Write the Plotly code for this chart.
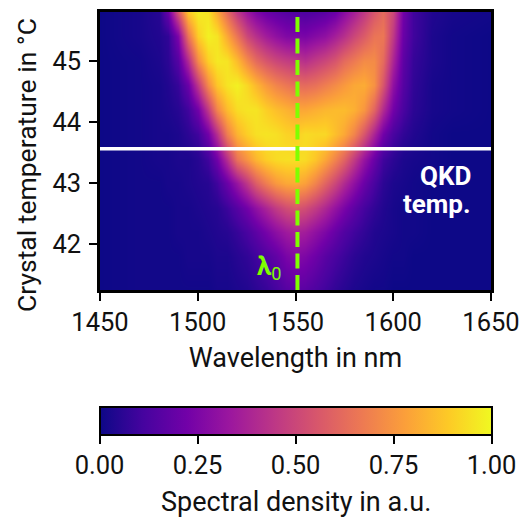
import plotly.graph_objects as go

wavelengths = [1450,1470,1480,1485,1490,1495,1500,1505,1510,1515,1520,1525,1530,1535,1540,1545,1550,1555,1560,1565,1570,1575,1580,1585,1590,1595,1600,1605,1610,1620,1630,1650]
temps = [41.25,41.8,42.2,42.6,43.0,43.4,43.8,44.2,44.6,45.0,45.4,45.8]
r_4125 = [0,.01,.01,.01,.01,.01,.01,.01,.02,.02,.03,.04,.06,.08,.11,.15,.17,.16,.13,.10,.07,.05,.03,.02,.01,.01,0,0,0,0,0,0]
r_418 = [0,.01,.01,.01,.01,.02,.02,.02,.03,.03,.05,.07,.10,.14,.18,.24,.27,.25,.21,.16,.12,.09,.06,.04,.03,.02,.01,.01,0,0,0,0]
r_422 = [0,.01,.01,.01,.02,.02,.02,.03,.04,.05,.08,.12,.17,.23,.29,.34,.37,.35,.30,.25,.19,.14,.10,.07,.04,.03,.02,.01,.01,0,0,0]
r_426 = [0,.01,.01,.01,.02,.02,.03,.04,.05,.09,.15,.22,.30,.38,.46,.52,.55,.52,.46,.39,.31,.24,.17,.11,.07,.04,.02,.01,.01,0,0,0]
r_430 = [0,.01,.01,.02,.02,.03,.04,.05,.10,.20,.32,.45,.58,.68,.76,.80,.81,.78,.70,.60,.50,.40,.30,.20,.12,.06,.03,.02,.01,0,0,0]
r_434 = [0,.01,.02,.02,.03,.03,.05,.10,.22,.42,.65,.75,.84,.90,.93,.94,.94,.93,.88,.80,.70,.60,.46,.32,.20,.10,.06,.03,.02,.01,0,0]
r_438 = [0,.01,.02,.02,.03,.06,.10,.22,.42,.68,.83,.90,.94,.95,.94,.91,.90,.93,.92,.92,.86,.80,.70,.55,.38,.22,.12,.07,.04,.01,0,0]
r_442 = [0,.01,.02,.03,.05,.10,.22,.45,.70,.85,.93,.95,.95,.90,.86,.83,.80,.80,.82,.84,.85,.85,.82,.75,.60,.40,.22,.12,.06,.02,.01,0]
r_446 = [0,.01,.02,.04,.08,.20,.45,.72,.88,.95,.98,.92,.84,.76,.70,.66,.63,.62,.64,.68,.72,.76,.80,.81,.74,.55,.30,.15,.07,.02,.01,0]
r_450 = [0,.01,.03,.06,.15,.40,.72,.90,.96,.95,.85,.72,.62,.55,.50,.47,.45,.42,.46,.50,.55,.62,.67,.72,.72,.62,.38,.17,.08,.03,.01,0]
r_454 = [0,.02,.04,.07,.25,.65,.90,.98,.95,.80,.65,.50,.42,.35,.30,.26,.25,.24,.27,.30,.36,.42,.50,.57,.65,.66,.45,.20,.10,.03,.01,0]
r_458 = [0,.02,.05,.20,.55,.88,.97,.95,.80,.62,.45,.33,.25,.20,.17,.15,.14,.13,.14,.16,.20,.28,.36,.45,.55,.62,.50,.22,.10,.04,.02,.01]
density = [r_4125,r_418,r_422,r_426,r_430,r_434,r_438,r_442,r_446,r_450,r_454,r_458]
lambda0 = 1551
qkd_temp = 43.56
x_ticks = [1450,1500,1550,1600,1650]
y_ticks = [42,43,44,45]
cb_ticks = [0,.25,.5,.75,1]
cb_labels = ["0.00","0.25","0.50","0.75","1.00"]

FONT = "Roboto"
TICK = 25.5
TITLE = 27
INK = "#111"
fig = go.Figure()
fig.add_trace(go.Heatmap(
    x=wavelengths, y=temps, z=density, zmin=0, zmax=1, zsmooth="best",
    colorscale="Plasma", hoverinfo="skip",
    colorbar=dict(orientation="h", thicknessmode="pixels", thickness=28, lenmode="pixels", len=392,
                  xref="paper", yref="container", x=0.5, xanchor="center", y=1-399/509, yanchor="top", xpad=0, ypad=0,
                  outlinewidth=2, outlinecolor="black", ticks="outside", ticklen=8, tickwidth=2, tickcolor="black",
                  tickvals=cb_ticks, ticktext=cb_labels, tickfont=dict(family=FONT, size=TICK, color=INK))))
fig.add_trace(go.Scatter(x=[1450,1650], y=[qkd_temp,qkd_temp], mode="lines", line=dict(color="white", width=3.5), hoverinfo="skip", showlegend=False))
fig.add_trace(go.Scatter(x=[lambda0,lambda0], y=[41.25,45.8], mode="lines", line=dict(color="#7fff00", width=4, dash="15px,6.5px"), hoverinfo="skip", showlegend=False))
fig.add_annotation(x=1641, y=43.12, xanchor="right", yanchor="middle", showarrow=False,
                   text="<b>QKD</b>", font=dict(family=FONT, size=26, color="white"))
fig.add_annotation(x=1641, y=42.65, xanchor="right", yanchor="middle", showarrow=False,
                   text="<b>temp.</b>", font=dict(family=FONT, size=26, color="white"))
fig.add_annotation(x=1544, y=41.62, xanchor="right", yanchor="middle", showarrow=False,
                   text="<b>λ</b><sub>0</sub>", font=dict(family=FONT, size=26, color="#7fff00"))
fig.add_annotation(xref="paper", yref="paper", x=-74/391, y=(290-165)/278, textangle=-90, showarrow=False,
                   xanchor="center", yanchor="middle", text="Crystal temperature in °C",
                   font=dict(family=FONT, size=26.5, color=INK))
fig.add_annotation(xref="paper", yref="paper", x=0.5, y=(290-501.5)/278, showarrow=False,
                   xanchor="center", yanchor="middle", text="Spectral density in a.u.",
                   font=dict(family=FONT, size=TITLE, color=INK))
axis = dict(showgrid=False, zeroline=False, showline=True, mirror=True, linecolor="black", linewidth=2.5, automargin=False,
            ticks="outside", ticklen=8, tickwidth=2, tickcolor="black", tickfont=dict(family=FONT, size=TICK, color=INK))
fig.update_layout(
    width=522, height=509, margin=dict(l=92, r=39, t=4, b=227, autoexpand=False), paper_bgcolor="white", plot_bgcolor="white", showlegend=False,
    xaxis=dict(axis, range=[1450,1650], tickvals=x_ticks, title=dict(text="Wavelength in nm", font=dict(family=FONT, size=TITLE, color=INK), standoff=12)),
    yaxis=dict(axis, range=[41.25,45.8], tickvals=y_ticks, ticklabelstandoff=3))
fig.write_html("out.html")
